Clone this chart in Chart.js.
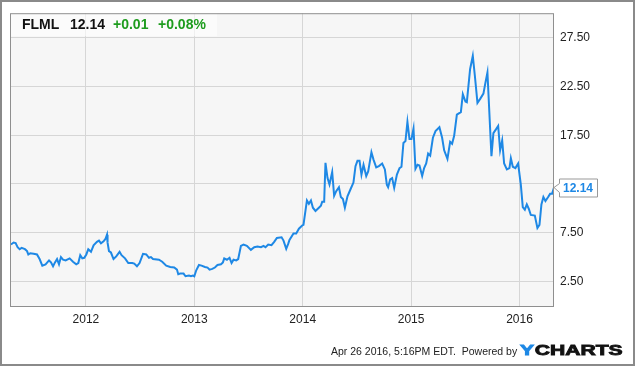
<!DOCTYPE html>
<html>
<head>
<meta charset="utf-8">
<script src="https://cdn.jsdelivr.net/npm/chart.js@4.4.1/dist/chart.umd.min.js"></script>
<style>
  body { margin: 0; background: #fff; }
  canvas { display: block; }
</style>
</head>
<body>
<canvas id="chart" width="635" height="366"></canvas>
<script>
// FLML weekly closes, dates as decimal years
var dates = [
  2011.309, 2011.333, 2011.352, 2011.370, 2011.389, 2011.407, 2011.438, 2011.457, 2011.469, 2011.487,
  2011.518, 2011.549, 2011.573, 2011.598, 2011.628, 2011.660, 2011.678, 2011.697, 2011.715, 2011.734,
  2011.752, 2011.770, 2011.789, 2011.813, 2011.850, 2011.881, 2011.911, 2011.930, 2011.948, 2011.967,
  2011.985, 2012.004, 2012.022, 2012.047, 2012.071, 2012.102, 2012.121, 2012.139, 2012.163, 2012.182,
  2012.195, 2012.200, 2012.213, 2012.231, 2012.255, 2012.280, 2012.311, 2012.329, 2012.361, 2012.391,
  2012.428, 2012.446, 2012.471, 2012.495, 2012.527, 2012.557, 2012.582, 2012.600, 2012.619, 2012.674,
  2012.704, 2012.741, 2012.778, 2012.815, 2012.840, 2012.852, 2012.870, 2012.901, 2012.919, 2012.951,
  2012.969, 2012.987, 2013.000, 2013.018, 2013.043, 2013.067, 2013.098, 2013.122, 2013.141, 2013.166,
  2013.190, 2013.214, 2013.246, 2013.264, 2013.276, 2013.301, 2013.325, 2013.344, 2013.362, 2013.387,
  2013.405, 2013.430, 2013.454, 2013.485, 2013.522, 2013.553, 2013.583, 2013.615, 2013.639, 2013.657,
  2013.682, 2013.712, 2013.737, 2013.762, 2013.805, 2013.823, 2013.848, 2013.866, 2013.878, 2013.915,
  2013.940, 2013.965, 2013.995, 2014.007, 2014.039, 2014.057, 2014.076, 2014.094, 2014.118, 2014.149,
  2014.168, 2014.180, 2014.198, 2014.210, 2014.229, 2014.247, 2014.272, 2014.290, 2014.309, 2014.334,
  2014.352, 2014.371, 2014.389, 2014.413, 2014.444, 2014.468, 2014.487, 2014.505, 2014.524, 2014.542,
  2014.561, 2014.586, 2014.604, 2014.634, 2014.653, 2014.678, 2014.703, 2014.733, 2014.758, 2014.776,
  2014.788, 2014.807, 2014.825, 2014.844, 2014.869, 2014.893, 2014.911, 2014.929, 2014.948, 2014.966,
  2014.985, 2015.003, 2015.022, 2015.040, 2015.059, 2015.077, 2015.102, 2015.120, 2015.139, 2015.157,
  2015.176, 2015.201, 2015.225, 2015.261, 2015.286, 2015.305, 2015.335, 2015.360, 2015.378, 2015.397,
  2015.422, 2015.459, 2015.477, 2015.501, 2015.514, 2015.544, 2015.569, 2015.588, 2015.612, 2015.637,
  2015.667, 2015.686, 2015.704, 2015.741, 2015.759, 2015.784, 2015.803, 2015.821, 2015.840, 2015.858,
  2015.883, 2015.907, 2015.920, 2015.938, 2015.962, 2015.987, 2016.012, 2016.030, 2016.049, 2016.067,
  2016.086, 2016.104, 2016.141, 2016.165, 2016.184, 2016.202, 2016.220, 2016.239, 2016.264, 2016.282,
  2016.300, 2016.318
];
var prices = [
  6.30, 6.50, 6.45, 6.02, 5.82, 5.96, 5.82, 5.62, 5.28, 5.41,
  5.35, 5.28, 4.81, 4.14, 4.27, 4.67, 4.47, 4.07, 4.47, 4.81,
  4.27, 5.01, 4.74, 4.67, 4.88, 4.54, 4.27, 4.40, 5.21, 4.88,
  4.94, 5.28, 5.82, 5.55, 6.22, 6.57, 6.70, 6.43, 6.63, 6.90,
  7.31, 6.50, 5.62, 5.48, 4.81, 5.08, 5.55, 5.21, 4.88, 4.40,
  4.40, 4.34, 4.07, 4.40, 5.35, 5.28, 4.94, 5.01, 4.81, 4.74,
  4.54, 4.14, 4.00, 3.94, 3.73, 3.26, 3.32, 3.32, 3.05, 3.12,
  3.05, 3.12, 3.05, 3.66, 4.20, 4.14, 4.00, 3.94, 3.73, 3.80,
  3.94, 4.20, 4.27, 4.47, 4.88, 4.74, 4.94, 4.40, 4.74, 4.67,
  4.81, 6.16, 6.30, 6.16, 5.75, 6.02, 6.09, 6.02, 6.16, 6.02,
  6.30, 6.23, 6.57, 6.97, 7.04, 6.70, 5.86, 6.36, 6.77, 7.44,
  7.44, 7.92, 8.25, 8.32, 10.82, 10.48, 10.82, 10.07, 9.74, 10.07,
  10.28, 10.68, 10.68, 14.67, 13.11, 12.44, 13.72, 11.29, 11.77, 12.17,
  11.16, 10.96, 10.07, 11.23, 12.04, 12.65, 14.33, 14.87, 14.87, 13.46,
  14.47, 13.32, 13.79, 15.75, 15.00, 14.20, 14.33, 14.60, 13.99, 12.44,
  12.17, 12.98, 13.11, 12.10, 13.46, 14.13, 14.27, 16.70, 16.90, 18.86,
  17.10, 17.10, 18.18, 14.06, 14.47, 14.40, 13.32, 14.13, 14.60, 15.62,
  15.41, 17.24, 17.92, 18.32, 17.24, 15.95, 15.08, 16.83, 16.63, 17.44,
  19.60, 19.87, 21.70, 20.95, 20.88, 24.26, 25.62, 23.59, 20.81, 21.22,
  21.76, 22.91, 23.92, 15.34, 17.71, 18.12, 18.45, 15.95, 16.96, 14.60,
  13.99, 14.13, 15.14, 14.27, 14.13, 14.60, 12.44, 10.14, 9.87, 10.41,
  9.94, 9.33, 9.26, 7.99, 8.32, 10.41, 11.16, 10.75, 11.16, 11.49,
  11.49, 12.14
];
var yearTicks = [2012, 2013, 2014, 2015, 2016];
var priceTicks = [2.5, 7.5, 12.5, 17.5, 22.5, 27.5];

var symbol = "FLML";
var lastPrice = "12.14";
var change = "+0.01";
var changePct = "+0.08%";
var stamp = "Apr 26 2016, 5:16PM EDT.  Powered by";

var points = dates.map(function(d, i) { return { x: d, y: prices[i] }; });
var fontFamily = "'Liberation Sans', Arial, sans-serif";

var frame = {
  id: "frame",
  beforeDraw: function(chart) {
    var ctx = chart.ctx, a = chart.chartArea;
    ctx.save();
    ctx.fillStyle = "#fff";
    ctx.fillRect(0, 0, chart.width, chart.height);
    ctx.fillStyle = "#f6f6f6";
    ctx.fillRect(a.left, a.top, a.right - a.left, a.bottom - a.top);
    ctx.restore();
  },
  beforeDatasetsDraw: function(chart) {
    var ctx = chart.ctx, a = chart.chartArea;
    ctx.save();
    // header box
    ctx.fillStyle = "rgba(255,255,255,0.6)";
    ctx.fillRect(a.left, a.top, 207, 23);
    ctx.font = "bold 14px " + fontFamily;
    ctx.textBaseline = "alphabetic";
    ctx.fillStyle = "#111";
    ctx.fillText(symbol, 22, 28.5);
    ctx.fillText(lastPrice, 70, 28.5);
    ctx.fillStyle = "#1e9c1e";
    ctx.fillText(change, 113, 28.5);
    ctx.fillText(changePct, 158, 28.5);
    ctx.restore();
  },
  afterDraw: function(chart) {
    var ctx = chart.ctx, a = chart.chartArea;
    var xs = chart.scales.x, ys = chart.scales.y;
    ctx.save();
    // plot frame
    ctx.strokeStyle = "#8f8f8f";
    ctx.lineWidth = 1;
    ctx.strokeRect(a.left + 0.5, a.top + 0.5, a.right - a.left - 1, a.bottom - a.top);
    // outer border
    ctx.strokeStyle = "#8a8a8a";
    ctx.lineWidth = 2;
    ctx.strokeRect(1, 1, chart.width - 2, chart.height - 2);

    // last price callout
    var px = xs.getPixelForValue(dates[dates.length - 1]);
    var py = ys.getPixelForValue(prices[prices.length - 1]);
    var bx = px + 5, by = py - 9, bw = 38, bh = 18;
    ctx.fillStyle = "#fff";
    ctx.strokeStyle = "#999";
    ctx.lineWidth = 1;
    ctx.beginPath();
    ctx.moveTo(bx + 0.5, by + 0.5);
    ctx.lineTo(bx + bw + 0.5, by + 0.5);
    ctx.lineTo(bx + bw + 0.5, by + bh + 0.5);
    ctx.lineTo(bx + 0.5, by + bh + 0.5);
    ctx.lineTo(bx + 0.5, py + 5);
    ctx.lineTo(px, py);
    ctx.lineTo(bx + 0.5, py - 4);
    ctx.closePath();
    ctx.fill();
    ctx.stroke();
    ctx.fillStyle = "#1e88e5";
    ctx.font = "bold 12px " + fontFamily;
    ctx.textBaseline = "middle";
    ctx.fillText(lastPrice, bx + 4, by + bh / 2 + 1);

    // footer
    ctx.textBaseline = "alphabetic";
    ctx.fillStyle = "#222";
    ctx.font = "10.5px " + fontFamily;
    ctx.fillText(stamp, 331, 354.5);
    // YCHARTS wordmark, wide and heavy
    ctx.translate(520, 354.5);
    ctx.scale(1.36, 1);
    ctx.font = "bold 15.5px " + fontFamily;
    ctx.lineWidth = 0.9;
    ctx.fillStyle = ctx.strokeStyle = "#1e88e5";
    ctx.fillText("Y", 0, 0);
    ctx.strokeText("Y", 0, 0);
    var yw = ctx.measureText("Y").width;
    ctx.fillStyle = ctx.strokeStyle = "#111";
    ctx.fillText("CHARTS", yw + 0.5, 0);
    ctx.strokeText("CHARTS", yw + 0.5, 0);
    ctx.restore();
  }
};

new Chart(document.getElementById("chart"), {
  type: "line",
  data: {
    datasets: [{
      data: points,
      borderColor: "#1e88e5",
      borderWidth: 2,
      pointRadius: 0,
      tension: 0,
      fill: false
    }]
  },
  options: {
    responsive: false,
    animation: false,
    layout: { padding: { left: 10, top: 10, right: 0, bottom: 0 } },
    plugins: {
      legend: { display: false },
      tooltip: { enabled: false }
    },
    scales: {
      x: {
        type: "linear",
        min: 2011.30,
        max: 2016.318,
        afterBuildTicks: function(scale) {
          scale.ticks = yearTicks.map(function(v) { return { value: v }; });
        },
        afterFit: function(scale) { scale.height = 60; },
        grid: { color: "#d6d6d6", drawTicks: false },
        border: { display: false },
        ticks: {
          padding: 6,
          color: "#222",
          font: { family: fontFamily, size: 12 },
          maxRotation: 0,
          callback: function(value) { return String(value); }
        }
      },
      y: {
        position: "right",
        min: 0,
        max: 30,
        afterBuildTicks: function(scale) {
          scale.ticks = priceTicks.map(function(v) { return { value: v }; });
        },
        afterFit: function(scale) { scale.width = 81; },
        grid: { color: "#d6d6d6", drawTicks: false },
        border: { display: false },
        ticks: {
          padding: 6,
          color: "#222",
          font: { family: fontFamily, size: 12 },
          // the 12.50 label sits under the last-price callout
          callback: function(value) { return value === 12.5 ? "" : value.toFixed(2); }
        }
      }
    }
  },
  plugins: [frame]
});
</script>
</body>
</html>
